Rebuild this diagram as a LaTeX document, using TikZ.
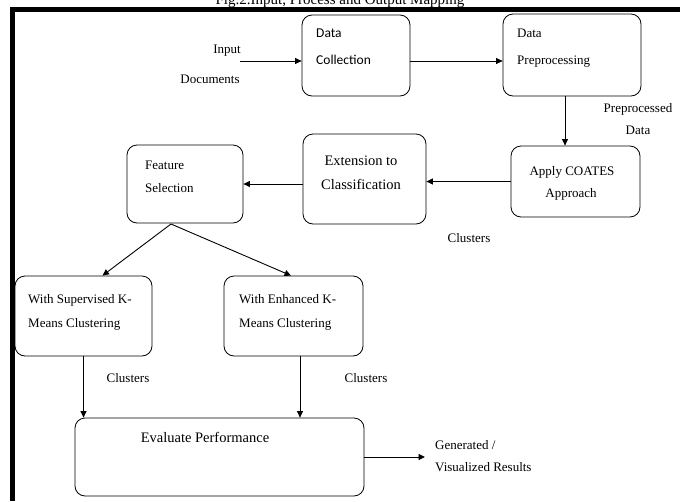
\documentclass[tikz,border=0pt]{standalone}
\usepackage{fontspec}
\setmainfont{Liberation Serif}
\newfontfamily\calibrifont{Carlito}
\usetikzlibrary{arrows.meta}

\begin{document}
\begin{tikzpicture}
[x=1pt, y=-1pt,
  boxdecorate/.style={shape=rectangle,rounded corners=10pt,draw,line width=0.8pt,inner sep=0pt},%
  linedecorate/.style={-{Triangle[length=6.5pt,width=6pt]},line width=0.9pt},%
  textdecorate/.style={inner sep=0pt,font=\fontsize{13}{15}\selectfont}]
\useasboundingbox (0,0) rectangle (680,501);
%% frame and title
\node (title) at (340,4.5) [anchor=base,inner sep=0pt,font=\fontsize{15}{17}\selectfont]
  {Fig.2.Input, Process and Output Mapping};
\draw[line width=4.5pt] (680,9.5) -- (12.5,9.5) -- (12.5,501);
%% boxes
\foreach \nodename/\xa/\ya/\xb/\yb in {coll/302/15/410/96, prep/503/14/641/96,
  apply/511/146/640/217, ext/303/134/426/224, feat/127/145/243/223,
  sup/15/276/152/356, enh/224/276/363/356, eval/75/418/364/496}
{
  \node (\nodename) at ({(\xa+\xb)/2},{(\ya+\yb)/2}) [boxdecorate,
    minimum width={(\xb-\xa)*1pt}, minimum height={(\yb-\ya)*1pt}] {};
}
%% texts inside the boxes
\foreach \nodename/\x/\y/\anc/\txt in {prep1/517/37/base west/Data,
  prep2/517/64/base west/Preprocessing, apply1/572/175/base/Apply COATES,
  apply2/571/197/base/Approach, feat1/145/169/base west/Feature,
  feat2/145/192/base west/Selection, sup1/28/303/base west/With Supervised K-,
  sup2/28/327/base west/Means Clustering, enh1/239/303/base west/With Enhanced K-,
  enh2/239/327/base west/Means Clustering}
{
  \node (\nodename) at (\x,\y) [textdecorate,anchor=\anc] {\txt};
}
\node (coll1) at (316,37) [textdecorate,anchor=base west,font=\calibrifont\fontsize{13.5}{15}\selectfont] {Data};
\node (coll2) at (316,64) [textdecorate,anchor=base west,font=\calibrifont\fontsize{13.5}{15}\selectfont] {Collection};
\node (ext1) at (361,165) [textdecorate,anchor=base,font=\fontsize{14.5}{16}\selectfont] {Extension to};
\node (ext2) at (361,189) [textdecorate,anchor=base,font=\fontsize{14.5}{16}\selectfont] {Classification};
\node (eval1) at (205,442) [textdecorate,anchor=base,font=\fontsize{14.5}{16}\selectfont] {Evaluate Performance};
%% labels on the connectors
\foreach \nodename/\x/\y/\anc/\txt in {inlab1/227/53/base/Input,
  inlab2/210/83/base/Documents, prelab1/638/112/base/Preprocessed,
  prelab2/638/134/base/Data, clus1/469/242/base/Clusters,
  clus2/128/382/base/Clusters, clus3/366/382/base/Clusters,
  reslab1/435/449/base west/{Generated /}, reslab2/435/471/base west/Visualized Results}
{
  \node (\nodename) at (\x,\y) [textdecorate,anchor=\anc] {\txt};
}
%% edges or lines
\coordinate (inp) at (240,61);
\coordinate (pd) at (565,0);
\coordinate (fs) at (171,224);
\coordinate (ed) at (300,0);
\coordinate (res) at (425,457);
\draw[linedecorate] (inp) -- (inp -| coll.west);
\draw[linedecorate] (coll.east |- inp) -- (prep.west |- inp);
\draw[linedecorate] (prep.south -| pd) -- (apply.north -| pd);
\draw[linedecorate] (apply.west) -- (apply.west -| ext.east);
\draw[linedecorate] (ext.west |- feat.east) -- (feat.east);
\draw[linedecorate] (fs) -- ([xshift=19pt]sup.north);
\draw[linedecorate] (fs) -- ([xshift=-2.5pt]enh.north);
\draw[linedecorate] (sup.south) -- (sup.south |- eval.north);
\draw[linedecorate] (enh.south -| ed) -- (eval.north -| ed);
\draw[linedecorate] (eval.east |- res) -- (res);
\end{tikzpicture}
\end{document}
